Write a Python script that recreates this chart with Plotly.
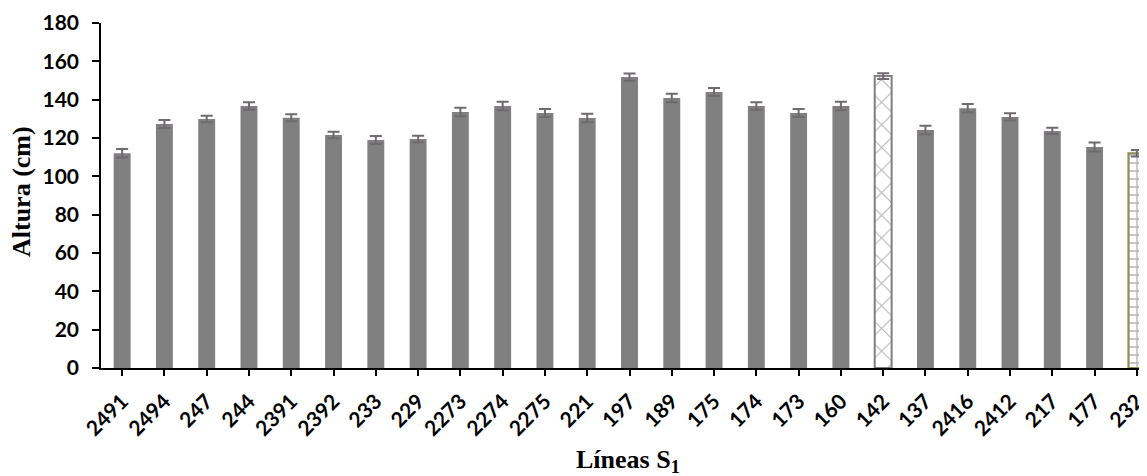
import plotly.graph_objects as go

lineas = ["2491", "2494", "247", "244", "2391", "2392", "233", "229", "2273", "2274",
          "2275", "221", "197", "189", "175", "174", "173", "160", "142", "137",
          "2416", "2412", "217", "177", "232"]
altura = [112.0, 127.3, 129.9, 136.7, 130.6, 121.6, 119.0, 119.5, 133.6, 136.7,
          133.0, 130.4, 151.8, 140.9, 144.0, 136.7, 133.0, 136.7, 152.3, 124.2,
          135.5, 131.0, 123.7, 115.3, 112.0]
error = [2.2, 2.1, 1.7, 1.9, 1.8, 1.7, 2.1, 1.7, 2.2, 2.2,
         2.1, 2.2, 1.9, 2.2, 2.1, 1.9, 2.1, 2.2, 1.5, 2.2,
         2.2, 1.9, 1.6, 2.4, 1.7]
y_ticks = [0, 20, 40, 60, 80, 100, 120, 140, 160, 180]
special = {"142": "x", "232": "+"}

# page body has an 8px margin in the browser; compensate
OFF = 8
W, H = 1147 - OFF, 476 - OFF
L, R, T, B = 101 - OFF, 0, 23 - OFF, 108
pw, ph = W - L - R, H - T - B

err_style = dict(type="data", visible=True, color="#6f6a6f", thickness=2, width=6)

fig = go.Figure()
idx_plain = [i for i, n in enumerate(lineas) if n not in special]
fig.add_trace(go.Bar(
    x=[lineas[i] for i in idx_plain], y=[altura[i] for i in idx_plain], width=0.4,
    marker=dict(color="#808080", line=dict(color="#808080", width=0)),
    error_y=dict(array=[error[i] for i in idx_plain], **err_style),
    showlegend=False,
))
outline = {"142": "#7f7f7f", "232": "#948a54"}
psize = {"142": 16, "232": 8}
psol = {"142": 0.12, "232": 0.3}
for name, shp in special.items():
    i = lineas.index(name)
    fig.add_trace(go.Bar(
        x=[lineas[i]], y=[altura[i]], width=0.4,
        marker=dict(color="white", line=dict(color=outline[name], width=2),
                    pattern=dict(shape=shp, fgcolor="#666666", bgcolor="white",
                                 size=psize[name], solidity=psol[name])),
        error_y=dict(array=[error[i]], **err_style),
        showlegend=False,
    ))

tick_font = dict(family="Lato", size=21, color="black", weight="bold")
fig.update_layout(
    width=W, height=H,
    margin=dict(l=L, r=R, t=T, b=B, pad=0),
    plot_bgcolor="white", paper_bgcolor="white",
    barmode="overlay",
    xaxis=dict(type="category", categoryorder="array", categoryarray=lineas,
               range=[-0.5, 24.24], showgrid=False,
               showline=True, linecolor="black", linewidth=1.5,
               ticks="outside", ticklen=6, tickwidth=1.5, tickcolor="black",
               tickangle=-45, tickfont=tick_font, ticklabelstandoff=5),
    yaxis=dict(range=[0, 180], tickvals=y_ticks, showgrid=False, zeroline=False,
               showline=True, linecolor="black", linewidth=1.5,
               ticks="outside", ticklen=7, tickwidth=1.5, tickcolor="black",
               tickfont=tick_font, ticklabelstandoff=9),
    annotations=[
        dict(text="<b>Líneas S<sub>1</sub></b>", xref="paper", yref="paper",
             x=(628 - 101) / pw, y=-(461 - 368) / ph, xanchor="center", yanchor="middle",
             showarrow=False, font=dict(family="Liberation Serif", size=26, color="black")),
        dict(text="<b>Altura (cm)</b>", xref="paper", yref="paper", textangle=-90,
             x=(21 - 101) / pw, y=(368 - 192) / ph, xanchor="center", yanchor="middle",
             showarrow=False, font=dict(family="Liberation Serif", size=26, color="black")),
    ],
)

fig.write_html("out.html")
